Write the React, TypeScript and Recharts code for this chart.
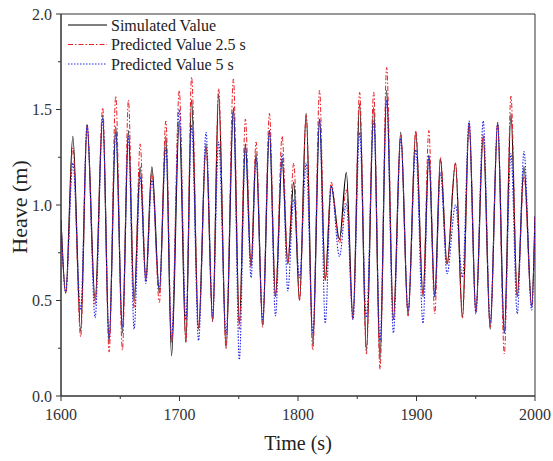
import { LineChart, Line, XAxis, YAxis, ReferenceArea, Legend } from 'recharts'

// times of the turning points (s)
const TIME = [
    1600, 1604, 1610, 1616.6, 1622, 1628.8, 1635.2, 1640.6, 1646.2, 1651.8,
    1656.9, 1661.7, 1666.8, 1671.6, 1676.7, 1683, 1688.5, 1693.3, 1699.8, 1705.4,
    1710.2, 1716.1, 1722.4, 1728, 1733, 1739.3, 1745.5, 1750.5, 1755.6, 1760.4,
    1764.6, 1770.2, 1775.9, 1781, 1786.6, 1791.4, 1796.4, 1801.3, 1806.9, 1812.5,
    1818.2, 1823, 1828, 1835, 1840.8, 1846.4, 1852, 1857.7, 1863.9, 1869.2,
    1874.8, 1880.5, 1886.7, 1892.9, 1899.4, 1905.5, 1910.4, 1915.4, 1920.2, 1925.8,
    1932.9, 1938.8, 1944.4, 1950.1, 1956.3, 1962.2, 1968.5, 1974.1, 1979.7, 1985,
    1990.7, 1997.2, 2000,
]

const SIMULATED = [
    0.92, 0.54, 1.36, 0.34, 1.42, 0.50, 1.47, 0.28, 1.41, 0.33,
    1.39, 0.50, 1.20, 0.61, 1.20, 0.54, 1.36, 0.21, 1.44, 0.28,
    1.55, 0.35, 1.32, 0.39, 1.58, 0.25, 1.51, 0.38, 1.32, 0.68,
    1.27, 0.37, 1.39, 0.52, 1.24, 0.69, 1.12, 0.50, 1.48, 0.27,
    1.45, 0.61, 1.10, 0.82, 1.17, 0.41, 1.53, 0.24, 1.51, 0.19,
    1.60, 0.40, 1.38, 0.42, 1.38, 0.52, 1.26, 0.52, 1.24, 0.69,
    1.22, 0.41, 1.43, 0.44, 1.36, 0.35, 1.43, 0.33, 1.48, 0.52,
    1.20, 0.47, 0.94,
]

const PREDICTED_2_5 = [
    0.92, 0.54, 1.30, 0.31, 1.42, 0.48, 1.51, 0.23, 1.57, 0.24,
    1.55, 0.46, 1.32, 0.60, 1.17, 0.49, 1.44, 0.28, 1.60, 0.28,
    1.67, 0.35, 1.30, 0.39, 1.61, 0.25, 1.66, 0.35, 1.45, 0.68,
    1.33, 0.36, 1.48, 0.52, 1.36, 0.70, 1.22, 0.50, 1.47, 0.24,
    1.60, 0.60, 1.12, 0.80, 1.08, 0.40, 1.59, 0.22, 1.59, 0.14,
    1.72, 0.40, 1.37, 0.42, 1.39, 0.53, 1.39, 0.43, 1.25, 0.69,
    1.22, 0.41, 1.43, 0.44, 1.37, 0.36, 1.43, 0.22, 1.57, 0.53,
    1.15, 0.47, 0.94,
]

const PREDICTED_5 = [
    0.92, 0.54, 1.22, 0.45, 1.42, 0.41, 1.45, 0.30, 1.38, 0.36,
    1.36, 0.35, 1.15, 0.59, 1.13, 0.56, 1.30, 0.30, 1.50, 0.40,
    1.42, 0.29, 1.38, 0.42, 1.33, 0.33, 1.49, 0.19, 1.30, 0.62,
    1.25, 0.40, 1.39, 0.42, 1.27, 0.55, 1.03, 0.62, 1.22, 0.33,
    1.45, 0.38, 1.10, 0.73, 1.01, 0.40, 1.38, 0.41, 1.44, 0.29,
    1.55, 0.33, 1.35, 0.45, 1.29, 0.38, 1.26, 0.52, 1.17, 0.64,
    1.00, 0.62, 1.44, 0.43, 1.44, 0.38, 1.43, 0.33, 1.27, 0.43,
    1.28, 0.45, 0.94,
]

const X_TICKS = [1600, 1650, 1700, 1750, 1800, 1850, 1900, 1950, 2000]
const Y_TICKS = [0, 0.25, 0.5, 0.75, 1, 1.25, 1.5, 1.75, 2]

const data = TIME.map((t, i) => ({
    t,
    sim: SIMULATED[i],
    p25: PREDICTED_2_5[i],
    p5: PREDICTED_5[i],
}))

const FONT = "'Liberation Serif', 'Times New Roman', serif"
const AXIS = '#333'
const RED = '#e8202a'
const BLUE = '#2424e0'

const SERIES_ORDER = ['sim', 'p25', 'p5']
const DASHES: Record<string, string | undefined> = {
    sim: undefined,
    p25: '5 2 1.5 2',
    p5: '1.5 1.5',
}

function XTick({ x, y, payload }: any) {
    const major = payload.value % 100 === 0
    return (
        <g>
            <line x1={x} x2={x} y1={y} y2={y + (major ? 5 : 3)} stroke={AXIS} />
            {major && (
                <text x={x} y={y + 24} textAnchor="middle" fontFamily={FONT} style={{ fill: AXIS, fontSize: 16, fontFamily: FONT }}>
                    {payload.value}
                </text>
            )}
        </g>
    )
}

function YTick({ x, y, payload }: any) {
    const v: number = payload.value
    const major = Math.abs(v * 2 - Math.round(v * 2)) < 1e-6
    return (
        <g>
            <line x1={x - (major ? 5 : 3)} x2={x} y1={y} y2={y} stroke={AXIS} />
            {major && (
                <text x={x - 9} y={y + 5.5} textAnchor="end" fontFamily={FONT} style={{ fill: AXIS, fontSize: 16, fontFamily: FONT }}>
                    {v.toFixed(1)}
                </text>
            )}
        </g>
    )
}

function YTitle() {
    return (
        <text x={27} y={207} transform="rotate(-90 27 207)" textAnchor="middle" fontFamily={FONT} style={{ fill: '#222', fontSize: 22, fontFamily: FONT }}>
            Heave (m)
        </text>
    )
}

function LegendBox({ payload }: any) {
    const items = [...(payload || [])].sort(
        (a: any, b: any) => SERIES_ORDER.indexOf(a.dataKey) - SERIES_ORDER.indexOf(b.dataKey)
    )
    return (
        <svg width={200} height={62}>
            {items.map((entry: any, i: number) => {
                const cy = 13 + i * 19.5
                return (
                    <g key={i}>
                        <line x1={4} x2={43} y1={cy} y2={cy} stroke={entry.color} strokeWidth={1.2} strokeDasharray={DASHES[entry.dataKey]} />
                        <text x={47} y={cy + 5.5} fontFamily={FONT} style={{ fill: '#222', fontSize: 16, fontFamily: FONT }}>
                            {entry.value}
                        </text>
                    </g>
                )
            })}
        </svg>
    )
}

export default function App() {
    return (
        <div style={{ position: 'absolute', left: 0, top: 0, width: 553, height: 461, background: '#fff' }}>
            <LineChart width={553} height={461} data={data} margin={{ top: 14, right: 18, left: 0, bottom: 0 }}>
                <XAxis
                    dataKey="t"
                    type="number"
                    domain={[1600, 2000]}
                    ticks={X_TICKS}
                    interval={0}
                    tickSize={0}
                    tickMargin={0}
                    tickLine={false}
                    tick={<XTick />}
                    height={65}
                    axisLine={{ stroke: AXIS }}
                    allowDataOverflow
                    label={{ value: 'Time (s)', position: 'insideBottom', offset: 11, style: { fill: '#222', fontSize: 20, fontFamily: FONT } }}
                />
                <YAxis
                    type="number"
                    domain={[0, 2]}
                    ticks={Y_TICKS}
                    interval={0}
                    tickSize={0}
                    tickMargin={0}
                    tickLine={false}
                    tick={<YTick />}
                    width={61}
                    axisLine={{ stroke: AXIS }}
                    allowDataOverflow
                    label={<YTitle />}
                />
                <ReferenceArea x1={1600} x2={2000} y1={0} y2={2} fill="none" stroke={AXIS} strokeWidth={1} />
                <Legend
                    layout="vertical"
                    align="center"
                    verticalAlign="middle"
                    content={<LegendBox />}
                    wrapperStyle={{ left: 64, top: 12, width: 200 }}
                />
                <Line name="Simulated Value" dataKey="sim" type="monotone" stroke="#000" strokeWidth={1.2} dot={false} isAnimationActive={false} />
                <Line name="Predicted Value 2.5 s" dataKey="p25" type="monotone" stroke={RED} strokeWidth={1} strokeDasharray={DASHES.p25} dot={false} isAnimationActive={false} />
                <Line name="Predicted Value 5 s" dataKey="p5" type="monotone" stroke={BLUE} strokeWidth={1.1} strokeDasharray={DASHES.p5} dot={false} isAnimationActive={false} />
            </LineChart>
        </div>
    )
}
